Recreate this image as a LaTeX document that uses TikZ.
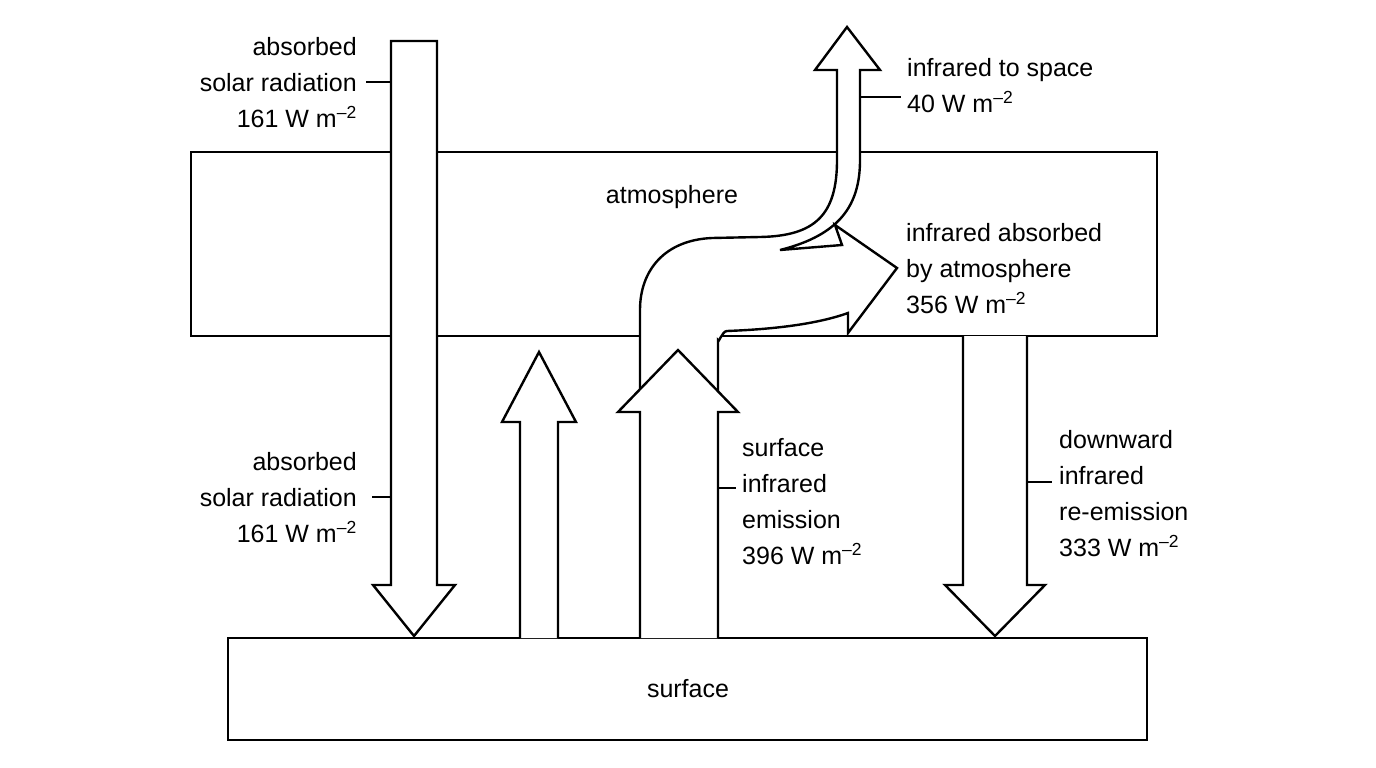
\documentclass[tikz,border=0pt]{standalone}
\usepackage{fontspec}
\setmainfont{Liberation Sans}
\usetikzlibrary{positioning}
\newcommand{\wm}{W m\textsuperscript{–2}}
\begin{document}
\begin{tikzpicture}[x=1pt,y=-1pt,line width=2.4pt,line join=miter,
  box/.style={draw,minimum width=#1},
  lbl/.style={font=\fontsize{25}{36}\selectfont,align=left,inner sep=0pt},
  lblr/.style={lbl,align=right},
  arrowbody/.style={draw,fill=white},
  leader/.style={line width=1.2pt}]
  \useasboundingbox (0,0) rectangle (1376,768);

  % boxes
  \draw (191,152) rectangle (1157,336);
  \draw (228,638) rectangle (1147,740);
  \node (atm) [lbl] at (672,197) {atmosphere};
  \node (surf) [lbl] at (688,689) {surface};

  % solar down arrow
  \draw[arrowbody] (391,41) -- (437,41) -- (437,585) -- (455,585) -- (414,636)
    -- (373,585) -- (391,585) -- cycle;
  % small up arrow
  \draw[arrowbody] (520,638) -- (520,422) -- (502,422) -- (539,352) -- (576,422)
    -- (558,422) -- (558,638);
  % curved arrows
  \draw[arrowbody] (718,412) -- (718,340) to[out=-90,in=180] (727,331)
    .. controls (780,329) and (820,323) .. (848,313) -- (848,333) -- (897,268)
    -- (835,225) -- (842,245) -- (780,250)
    .. controls (840,235) and (860,205) .. (860,160) -- (860,70) -- (880,70)
    -- (847,27) -- (815,70) -- (837,70) -- (837,160)
    .. controls (837,215) and (815,236) .. (760,237) -- (712,238)
    .. controls (665,240) and (640,270) .. (640,310) -- (640,412);
  % big up arrow
  \draw[arrowbody] (640,638) -- (640,412) -- (618,412) -- (678,350) -- (738,412)
    -- (718,412) -- (718,638);
  % re-emission down arrow
  \draw[arrowbody] (963,336) -- (963,585) -- (945,585) -- (995,636) -- (1045,585)
    -- (1027,585) -- (1027,336);

  % labels
  \node (solartop) [lblr,anchor=north east] at (358,36) {absorbed\\solar radiation\\161 \wm};
  \node (solarbot) [lblr,anchor=north east] at (358,451) {absorbed\\solar radiation\\161 \wm};
  \node (space) [lbl,anchor=north west] at (906,57) {infrared to space\\40 \wm};
  \node (absorbed) [lbl,anchor=north west] at (905,222) {infrared absorbed\\by atmosphere\\356 \wm};
  \node (emis) [lbl,anchor=north west] at (741,437) {surface\\infrared\\emission\\396 \wm};
  \node (down) [lbl,anchor=north west] at (1058,429) {downward\\infrared\\re-emission\\333 \wm};

  % leader lines
  \coordinate (c1) at (391,82);
  \coordinate (c2) at (391,497);
  \coordinate (c3) at (860,97);
  \coordinate (c4) at (718,488);
  \coordinate (c5) at (1027,482);
  \draw[leader] (c1) -- ++(-25,0);
  \draw[leader] (c2) -- ++(-19,0);
  \draw[leader] (c3) -- ++(41,0);
  \draw[leader] (c4) -- ++(18,0);
  \draw[leader] (c5) -- ++(25,0);
\end{tikzpicture}
\end{document}
